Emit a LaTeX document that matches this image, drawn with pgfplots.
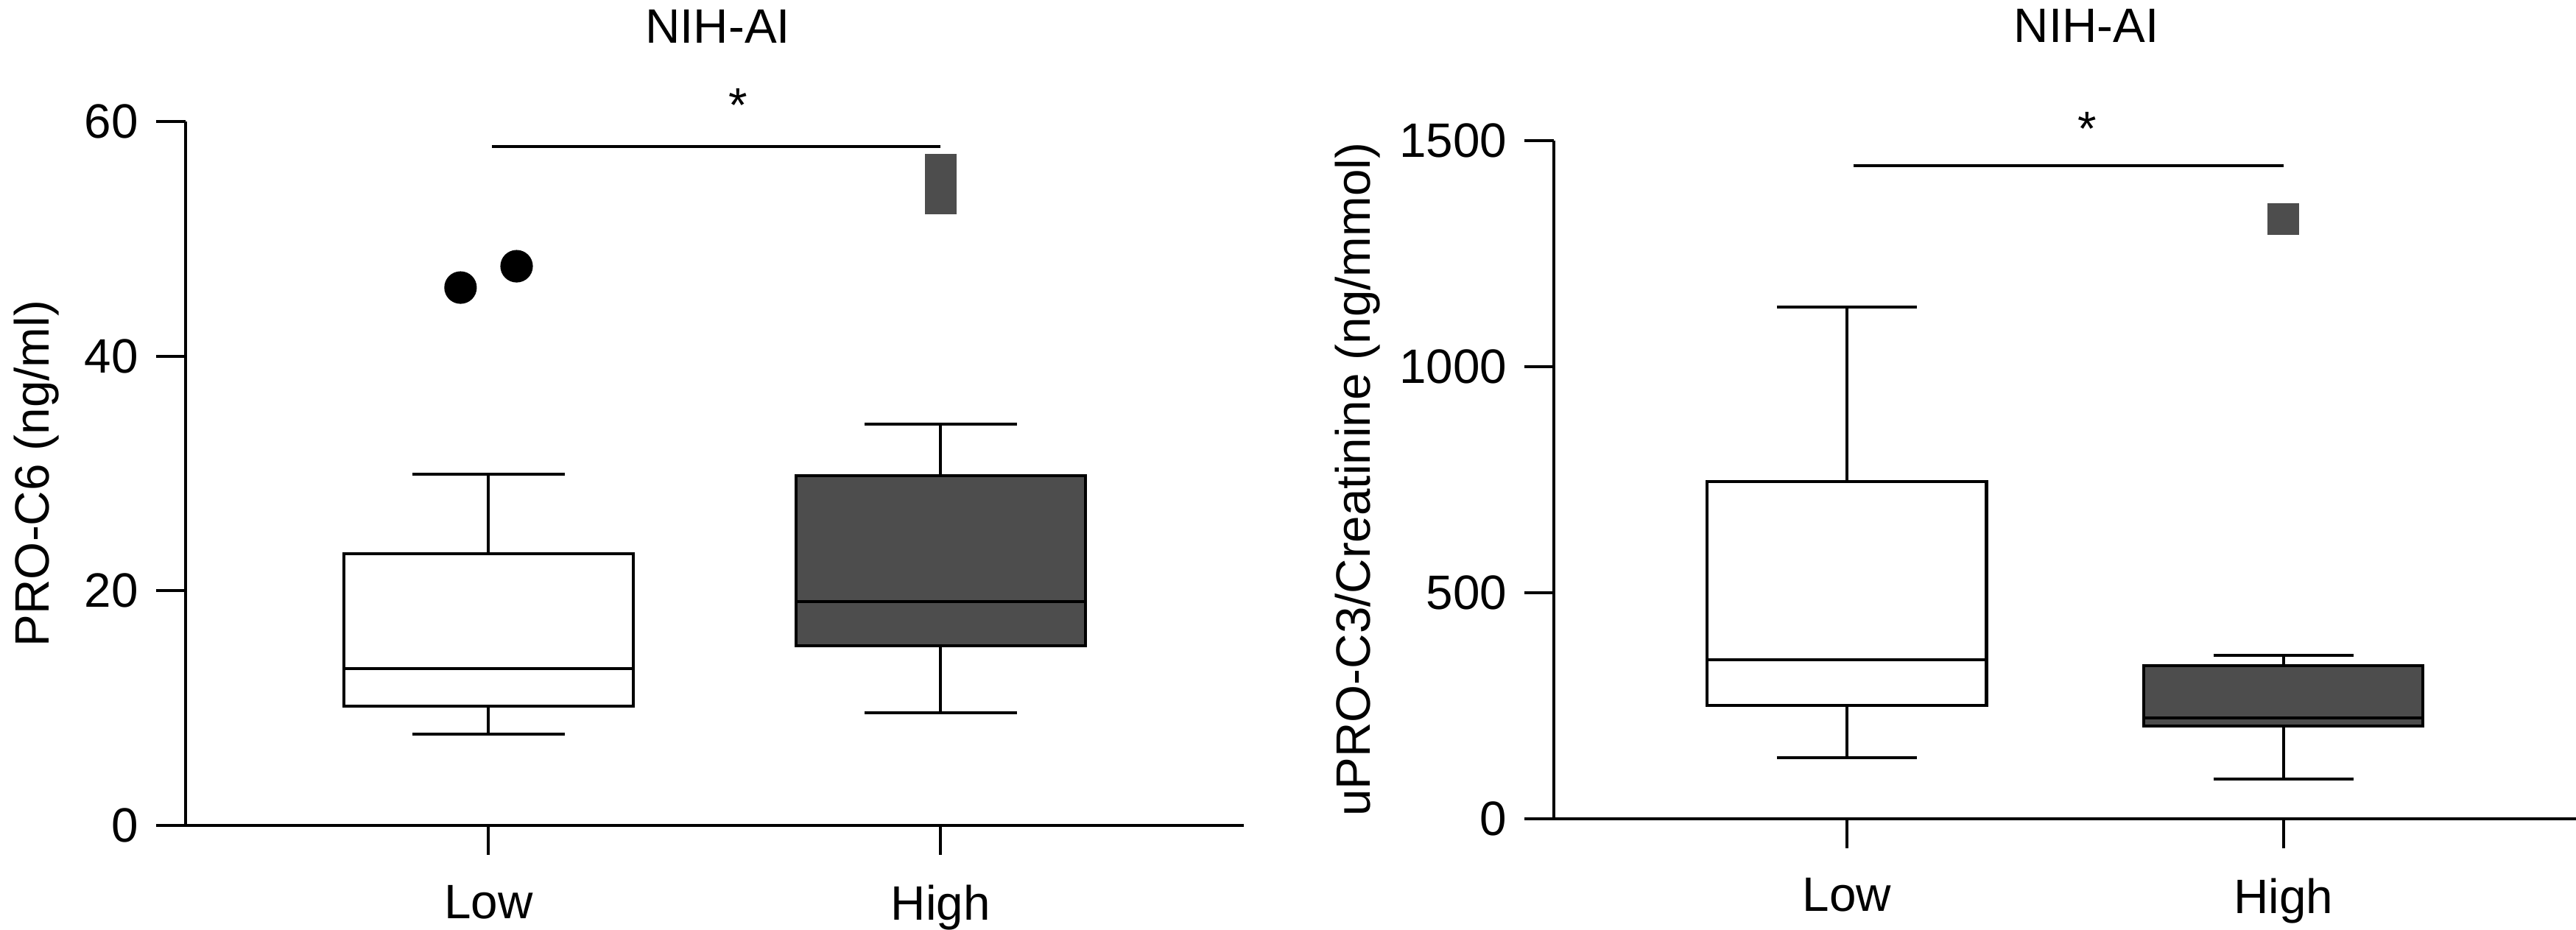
\documentclass[border=0pt]{standalone}
\usepackage{fontspec}
\setmainfont{Liberation Sans}
\usepackage{pgfplots}
\pgfplotsset{compat=1.18}
\definecolor{boxgray}{RGB}{77,77,77}

\pgfplotsset{
  nihstyle/.style={
    scale only axis,
    axis x line*=bottom, axis y line*=left,
    axis line style={line width=0.9pt, black},
    tick align=outside, major tick length=9pt,
    major tick style={line width=0.9pt, black},
    xtick={0,1}, xticklabels={Low,High},
    xmin=-0.67, xmax=1.67, ymin=0,
    clip=false,
    scaled y ticks=false,
    every axis title shift=0pt,
    /pgf/number format/assume math mode=true,
    /pgf/number format/1000 sep={},
    yticklabel style={inner sep=0pt, xshift=-5.2pt},
    xticklabel style={inner sep=0pt, yshift=-9pt},
  },
  seg/.style={black, line width=0.9pt, mark=none},
}

\begin{document}
\begin{tikzpicture}[font=\fontsize{14.7}{17.6}\selectfont]
\useasboundingbox (0,0) rectangle (784pt,-283pt);

% left: PRO-C6
\begin{axis}[nihstyle,
    at={(56.5pt,-251.25pt)}, anchor=south west,
    width=322pt, height=214.25pt,
    ymax=60, ytick={0,20,40,60},
    ylabel={PRO-C6 (ng/ml)},
    ylabel style={at={(axis description cs:-0.129,0.5)}, anchor=base},
    title={NIH-AI},
    title style={at={(axis description cs:0.503,1)}, anchor=base, yshift=24pt},
]
% Low: whiskers 7.81 / 29.92, box 10.14 - 23.18, median 13.34
\addplot[seg] coordinates {(0,23.18) (0,29.92)};
\addplot[seg] coordinates {(0,7.81) (0,10.14)};
\addplot[seg] coordinates {(-0.168,29.92) (0.168,29.92)};
\addplot[seg] coordinates {(-0.168,7.81) (0.168,7.81)};
\addplot[seg, fill=white] coordinates {(-0.32,10.14) (0.32,10.14) (0.32,23.18) (-0.32,23.18)} -- cycle;
\addplot[seg] coordinates {(-0.32,13.34) (0.32,13.34)};
% High: whiskers 9.59 / 34.18, box 15.32 - 29.82, median 19.07
\addplot[seg] coordinates {(1,29.82) (1,34.18)};
\addplot[seg] coordinates {(1,9.59) (1,15.32)};
\addplot[seg] coordinates {(0.832,34.18) (1.168,34.18)};
\addplot[seg] coordinates {(0.832,9.59) (1.168,9.59)};
\addplot[seg, fill=boxgray] coordinates {(0.68,15.32) (1.32,15.32) (1.32,29.82) (0.68,29.82)} -- cycle;
\addplot[seg] coordinates {(0.68,19.07) (1.32,19.07)};
% outliers
\addplot[only marks, mark=*, mark size=4.75pt, black]
    coordinates {(-0.062,45.85) (0.062,47.67)};
\addplot[only marks, mark=square*, mark size=4.6pt, draw=boxgray, fill=boxgray]
    coordinates {(1,55.87) (1,53.43)};
% significance bar
\addplot[seg] coordinates {(0.008,57.9) (1.0,57.9)};
\node[anchor=base] at (axis cs:0.552,60) {*};
\end{axis}

% right: uPRO-C3/Creatinine
\begin{axis}[nihstyle,
    at={(473pt,-249.15pt)}, anchor=south west,
    width=311pt, height=206.35pt,
    ymax=1500, ytick={0,500,1000,1500},
    ylabel={uPRO-C3/Creatinine (ng/mmol)},
    ylabel style={at={(axis description cs:-0.18,0.5)}, anchor=base},
    title={NIH-AI},
    title style={at={(axis description cs:0.521,1)}, anchor=base, yshift=30pt},
]
% Low: whiskers 134 / 1132, box 250 - 745, median 352
\addplot[seg] coordinates {(0,745) (0,1132)};
\addplot[seg] coordinates {(0,134) (0,250)};
\addplot[seg] coordinates {(-0.16,1132) (0.16,1132)};
\addplot[seg] coordinates {(-0.16,134) (0.16,134)};
\addplot[seg, fill=white] coordinates {(-0.32,250) (0.32,250) (0.32,745) (-0.32,745)} -- cycle;
\addplot[seg] coordinates {(-0.32,352) (0.32,352)};
% High: whiskers 88 / 361, box 204 - 338, median 223
\addplot[seg] coordinates {(1,338) (1,361)};
\addplot[seg] coordinates {(1,88) (1,204)};
\addplot[seg] coordinates {(0.84,361) (1.16,361)};
\addplot[seg] coordinates {(0.84,88) (1.16,88)};
\addplot[seg, fill=boxgray] coordinates {(0.68,204) (1.32,204) (1.32,338) (0.68,338)} -- cycle;
\addplot[seg] coordinates {(0.68,223) (1.32,223)};
% outlier
\addplot[only marks, mark=square*, mark size=4.6pt, draw=boxgray, fill=boxgray]
    coordinates {(1,1327)};
% significance bar
\addplot[seg] coordinates {(0.015,1445) (1.0,1445)};
\node[anchor=base] at (axis cs:0.55,1490) {*};
\end{axis}
\end{tikzpicture}
\end{document}
